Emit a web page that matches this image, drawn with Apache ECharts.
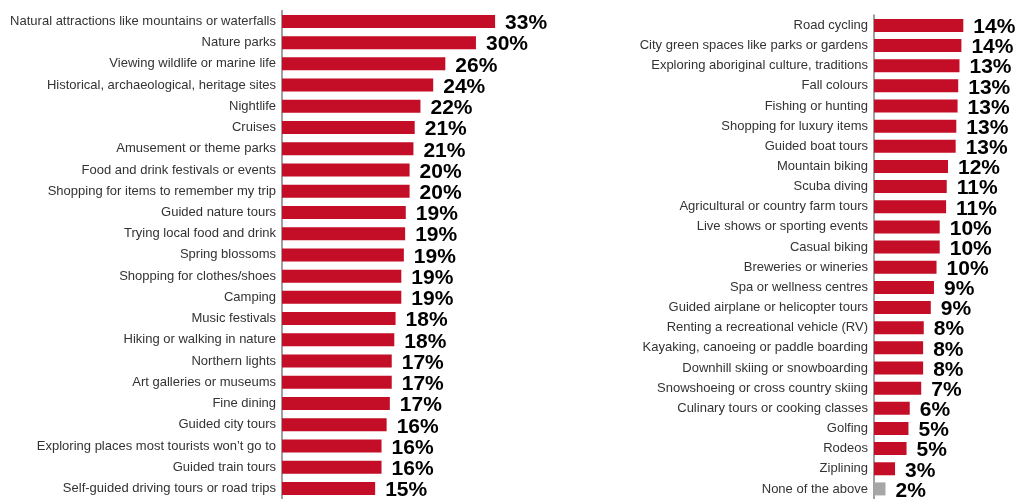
<!DOCTYPE html>
<html>
<head>
<meta charset="utf-8">
<script src="https://cdn.jsdelivr.net/npm/echarts@6/dist/echarts.min.js"></script>
<style>
  html, body { margin: 0; padding: 0; background: #ffffff; }
  #chart { width: 1018px; height: 499px; }
</style>
</head>
<body>
<div id="chart"></div>
<script>
// left column
const leftCategories = [
  'Natural attractions like mountains or waterfalls',
  'Nature parks',
  'Viewing wildlife or marine life',
  'Historical, archaeological, heritage sites',
  'Nightlife',
  'Cruises',
  'Amusement or theme parks',
  'Food and drink festivals or events',
  'Shopping for items to remember my trip',
  'Guided nature tours',
  'Trying local food and drink',
  'Spring blossoms',
  'Shopping for clothes/shoes',
  'Camping',
  'Music festivals',
  'Hiking or walking in nature',
  'Northern lights',
  'Art galleries or museums',
  'Fine dining',
  'Guided city tours',
  'Exploring places most tourists won\u2019t go to',
  'Guided train tours',
  'Self-guided driving tours or road trips'
]
const leftValues = [33.4, 30.4, 25.6, 23.7, 21.7, 20.8, 20.6, 20.0, 20.0, 19.4, 19.3, 19.1,
  18.7, 18.7, 17.8, 17.6, 17.2, 17.2, 16.9, 16.4, 15.6, 15.6, 14.6]

// right column
const rightCategories = [
  'Road cycling',
  'City green spaces like parks or gardens',
  'Exploring aboriginal culture, traditions',
  'Fall colours',
  'Fishing or hunting',
  'Shopping for luxury items',
  'Guided boat tours',
  'Mountain biking',
  'Scuba diving',
  'Agricultural or country farm tours',
  'Live shows or sporting events',
  'Casual biking',
  'Breweries or wineries',
  'Spa or wellness centres',
  'Guided airplane or helicopter tours',
  'Renting a recreational vehicle (RV)',
  'Kayaking, canoeing or paddle boarding',
  'Downhill skiing or snowboarding',
  'Snowshoeing or cross country skiing',
  'Culinary tours or cooking classes',
  'Golfing',
  'Rodeos',
  'Ziplining',
  'None of the above'
]
const rightValues = [14.0, 13.7, 13.4, 13.2, 13.1, 12.9, 12.8, 11.6, 11.4, 11.3, 10.3, 10.3,
  9.8, 9.4, 8.9, 7.8, 7.7, 7.7, 7.4, 5.6, 5.4, 5.1, 3.3, 1.8]

const RED = '#c40d26'
const GREY = '#a6a6a6'
const FONT = '"Liberation Sans", Arial, sans-serif'

function yAxisFor(gridIndex, cats) {
  return {
    type: 'category',
    gridIndex: gridIndex,
    data: cats,
    inverse: true,
    axisLine: { show: true, lineStyle: { color: '#a0a0a0', width: 2 } },
    axisTick: { show: false },
    axisLabel: { fontFamily: FONT, fontSize: 13, color: '#333333', margin: 6 }
  }
}

function xAxisFor(gridIndex, max) {
  return {
    type: 'value',
    gridIndex: gridIndex,
    min: 0,
    max: max,
    show: false
  }
}

function barSeries(idx, values) {
  return {
    type: 'bar',
    xAxisIndex: idx,
    yAxisIndex: idx,
    data: values,
    barWidth: 13,
    animation: false,
    itemStyle: {
      color: function (p) {
        return p.name === 'None of the above' ? GREY : RED
      }
    },
    label: {
      show: true,
      position: 'right',
      distance: 10,
      offset: [0, 2],
      fontFamily: FONT,
      fontSize: 21,
      fontWeight: 'bold',
      color: '#000000',
      formatter: function (p) { return Math.round(p.value) + '%' }
    }
  }
}

const chartInstance = echarts.init(document.getElementById('chart'))
chartInstance.setOption({
  backgroundColor: '#ffffff',
  grid: [
    { left: 282, top: 10.8, width: 223.3, height: 490 },
    { left: 874, top: 15.3, width: 127.6, height: 488.5 }
  ],
  xAxis: [xAxisFor(0, 35), xAxisFor(1, 20)],
  yAxis: [yAxisFor(0, leftCategories), yAxisFor(1, rightCategories)],
  series: [barSeries(0, leftValues), barSeries(1, rightValues)]
})
</script>
</body>
</html>
